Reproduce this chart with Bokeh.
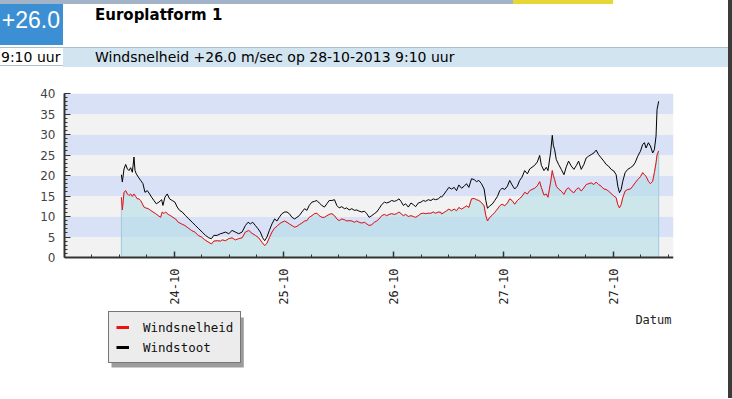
import math
from bokeh.plotting import figure
from bokeh.models import (Range1d, FixedTicker, BoxAnnotation, Legend, LegendItem,
                          Label, Div)
from bokeh.layouts import column, row
from bokeh.embed import file_html
from bokeh.resources import INLINE

# ---------------- data ----------------
station = "Europlatform 1"
laatste_waarde = "+26.0"
meettijd = "9:10 uur"
info_tekst = "Windsnelheid +26.0 m/sec op 28-10-2013 9:10 uur"
reeks_namen = ["Windsnelheid", "Windstoot"]
x_as_titel = "Datum"

# hours since 24-10-2013 00:00 (local); ticks at local midnight (DST ends 27-10)
dag_posities = [0, 24, 48, 72, 96]
dag_labels = ["24-10", "25-10", "26-10", "27-10", "27-10"]
x_bereik = [-24, 109.2]
y_ticks = [0, 5, 10, 15, 20, 25, 30, 35, 40]

tijd_snelheid = [
    -11.56, -11.35, -10.98, -10.62, -10.25, -9.89, -9.53, -9.16, -8.80, -8.44, -8.07, -7.71,
    -7.35, -6.98, -6.62, -6.25, -5.67, -5.16, -4.65, -4.07, -3.49, -2.98, -2.62, -2.25, -1.89,
    -1.31, -0.80, -0.29, 0.29, 0.87, 1.60, 2.33, 3.05, 3.78, 4.51, 5.24, 5.96, 6.69, 7.56,
    8.15, 8.65, 9.38, 10.11,
    10.47, 11.20, 11.93, 12.65, 13.38, 14.11, 14.84, 15.56, 16.29, 17.02, 17.75, 18.47, 19.20,
    19.78, 20.29, 20.80, 21.38, 21.96, 22.47, 22.98, 23.56, 24.15, 24.65, 25.16, 25.75, 26.33,
    26.84, 27.35, 27.93, 28.51, 29.02, 29.53, 30.11, 30.69, 31.20, 31.71, 32.29, 32.87, 33.38,
    33.89, 34.47,
    35.05, 35.56, 36.07, 36.65, 37.24, 37.75, 38.25, 38.84, 39.42, 39.93, 40.44, 41.02, 41.60,
    42.11, 42.62, 43.20, 43.78, 44.29, 44.80, 45.38, 45.96, 46.47, 46.98, 47.56, 48.15, 48.65,
    49.16, 49.60, 50.11, 50.62, 51.20, 51.78, 52.29, 52.80, 53.38, 53.96, 54.47, 54.98, 55.56,
    56.15, 56.65, 57.16, 57.75, 58.33,
    58.47, 59.05, 59.56, 60.07, 60.65, 61.24, 61.75, 62.25, 62.84, 63.42, 63.93, 64.44, 65.02,
    65.60, 66.11, 66.62, 67.20, 67.78, 68.15, 68.51, 69.02, 69.53, 70.11, 70.69, 71.20, 71.71,
    72.29, 72.87, 73.38, 73.89, 74.47, 75.05, 75.56, 76.07, 76.65, 77.24, 77.75, 78.25, 78.84,
    79.42, 79.93, 80.29, 80.87, 81.38, 81.75, 82.33, 82.69, 82.91,
    83.20, 83.56, 84.07, 84.65, 85.24, 85.75, 86.25, 86.84, 87.42, 87.93, 88.44, 89.02, 89.60,
    90.11, 90.62, 91.20, 91.78, 92.29, 92.80, 93.38, 93.96, 94.47, 94.98, 95.56, 96.15, 96.65,
    97.02, 97.38, 97.75, 98.11, 98.62, 99.20, 99.78, 100.29, 100.80, 101.38, 101.96, 102.47,
    102.84, 103.20, 103.71, 104.15, 104.65, 105.02, 105.38, 105.60, 105.96,
]
snelheid = [
    14.7, 11.6, 15.9, 16.3, 15.5, 15.1, 15.5, 14.9, 15.5, 14.9, 14.3, 14.3,
    13.9, 13.1, 12.3, 12.1, 11.9, 11.5, 11.1, 10.7, 10.2, 9.8, 11.1, 10.7, 11.1,
    10.5, 10.2, 9.8, 9.4, 8.6, 8.2, 7.8, 7.2, 6.6, 6.2, 5.4, 5.0, 4.3, 3.7,
    3.3, 4.0, 4.1, 4.0,
    4.3, 4.1, 4.6, 4.8, 4.3, 4.6, 4.8, 6.2, 6.6, 5.9, 5.4, 4.8, 3.7,
    2.9, 3.5, 4.8, 6.2, 7.2, 7.6, 8.2, 8.6, 8.9, 8.6, 8.2, 7.8, 7.4,
    7.6, 8.0, 8.4, 8.9, 9.0, 9.8, 10.2, 10.7, 10.8, 10.2, 9.8, 9.8, 10.2,
    10.5, 10.7,
    10.2, 9.4, 9.0, 9.4, 9.2, 8.9, 9.0, 8.9, 8.6, 8.9, 8.6, 8.4, 8.6,
    8.2, 7.8, 8.0, 8.6, 8.9, 9.4, 10.2, 10.5, 10.2, 10.5, 10.7, 10.5, 10.7,
    11.1, 10.7, 10.2, 10.5, 10.0, 10.2, 10.0, 9.8, 10.2, 10.7, 10.8, 10.7, 10.8,
    10.8, 11.1, 10.8, 11.1, 11.0,
    10.6, 11.0, 11.4, 11.8, 11.4, 11.8, 11.4, 12.2, 11.8, 12.2, 12.6, 12.2, 14.3,
    14.4, 14.1, 13.9, 13.4, 12.6, 10.2, 8.9, 9.8, 10.3, 11.0, 11.8, 12.6, 13.0,
    12.6, 13.3, 14.3, 13.9, 13.0, 13.9, 14.4, 14.9, 15.9, 15.5, 16.3, 16.6, 16.9,
    17.5, 18.5, 17.1, 15.2, 15.5, 14.7, 18.4, 21.2, 20.0,
    19.0, 17.4, 16.7, 16.2, 15.4, 16.6, 17.0, 16.2, 15.8, 16.6, 17.0, 16.2, 17.0,
    17.8, 18.0, 18.2, 17.8, 18.4, 17.8, 17.4, 16.7, 16.6, 16.2, 15.6, 15.0, 14.6,
    12.9, 12.1, 12.9, 14.6, 16.2, 16.6, 16.7, 17.4, 18.2, 19.0, 19.7, 20.7,
    20.2, 19.8, 18.6, 18.0, 18.6, 20.7, 23.1, 25.0, 26.0,
]

tijd_stoot = [
    -11.56, -11.35, -10.98, -10.62, -10.25, -9.89, -9.53, -9.16, -8.80, -8.58, -8.29, -7.85,
    -7.35, -6.84, -6.40, -5.89, -5.38, -4.95, -4.44, -3.93, -3.35, -2.76, -2.47, -2.04, -1.53,
    -1.02, -0.44, 0.15, 0.65, 1.16, 1.75, 2.47, 3.20, 3.93, 4.65, 5.38, 6.11, 6.84, 7.56,
    8.15, 8.65, 9.38, 10.11,
    10.47, 11.20, 11.93, 12.65, 13.38, 14.11, 14.84, 15.56, 16.15, 16.65, 17.16, 17.75, 18.33,
    18.84, 19.35, 19.78, 20.29, 20.80, 21.38, 21.96, 22.47, 22.98, 23.56, 24.15, 24.65, 25.16,
    25.75, 26.33, 26.84, 27.35, 27.93, 28.51, 29.02, 29.53, 30.11, 30.69, 31.20, 31.71, 32.29,
    32.87, 33.38, 33.89, 34.47,
    35.05, 35.56, 36.07, 36.65, 37.24, 37.75, 38.25, 38.84, 39.42, 39.93, 40.44, 41.02, 41.60,
    42.11, 42.62, 43.20, 43.78, 44.29, 44.80, 45.38, 45.96, 46.47, 46.98, 47.56, 48.15, 48.65,
    49.16, 49.60, 50.11, 50.62, 51.20, 51.78, 52.29, 52.80, 53.38, 53.96, 54.47, 54.98, 55.56,
    56.15, 56.65, 57.16, 57.75, 58.33,
    58.47, 59.05, 59.56, 60.07, 60.65, 61.24, 61.75, 62.25, 62.84, 63.42, 63.93, 64.44, 65.02,
    65.60, 66.11, 66.62, 67.20, 67.78, 68.15, 68.51, 69.02, 69.53, 70.11, 70.69, 71.20, 71.71,
    72.29, 72.87, 73.38, 73.89, 74.47, 75.05, 75.56, 76.07, 76.65, 77.24, 77.75, 78.25, 78.84,
    79.42, 79.93, 80.29, 80.87, 81.38, 81.75, 82.33, 82.69, 82.91,
    83.20, 83.56, 84.07, 84.65, 85.24, 85.75, 86.25, 86.84, 87.42, 87.93, 88.44, 89.02, 89.60,
    90.11, 90.62, 91.20, 91.78, 92.29, 92.80, 93.38, 93.96, 94.47, 94.98, 95.56, 96.15, 96.65,
    97.02, 97.38, 97.75, 98.11, 98.62, 99.20, 99.78, 100.29, 100.80, 101.38, 101.96, 102.47,
    102.84, 103.20, 103.71, 104.15, 104.65, 105.02, 105.38, 105.60, 105.96,
]
stoot = [
    20.2, 18.4, 21.6, 22.7, 21.6, 21.2, 21.9, 20.8, 24.5, 21.2, 20.4, 19.6,
    18.8, 18.0, 15.9, 16.3, 15.5, 14.7, 13.9, 13.1, 13.5, 14.1, 12.7, 14.7, 15.5,
    14.3, 13.9, 13.5, 12.3, 11.5, 11.1, 10.2, 9.4, 8.6, 7.8, 7.0, 6.2, 5.4, 4.8,
    4.6, 5.4, 5.4, 5.8,
    5.9, 6.2, 5.8, 6.6, 6.2, 5.8, 6.2, 7.8, 8.6, 8.2, 8.6, 7.8, 7.0,
    6.2, 4.8, 4.1, 5.0, 6.6, 8.2, 9.4, 8.9, 9.8, 10.7, 11.1, 11.1, 10.7,
    9.8, 9.4, 9.8, 10.2, 11.1, 11.9, 11.5, 12.7, 13.5, 13.7, 13.9, 13.3, 12.7,
    12.3, 13.1, 13.9, 13.9,
    14.1, 12.7, 12.1, 12.4, 11.9, 12.1, 11.6, 11.9, 11.5, 11.6, 11.3, 11.1, 11.3,
    10.7, 9.8, 10.2, 10.7, 11.1, 11.9, 12.9, 13.5, 13.3, 13.5, 13.9, 13.7, 13.9,
    14.3, 13.7, 12.7, 13.1, 12.3, 13.3, 12.9, 12.4, 13.3, 13.5, 13.9, 13.7, 14.1,
    13.9, 14.3, 14.1, 14.3, 14.9,
    14.7, 15.5, 16.3, 17.1, 16.7, 17.1, 16.3, 17.7, 16.9, 17.4, 18.0, 17.1, 19.2,
    19.0, 18.5, 18.8, 18.0, 16.7, 13.9, 12.0, 12.6, 13.0, 13.9, 14.9, 16.3, 16.9,
    16.6, 17.4, 18.8, 17.7, 16.7, 17.4, 18.8, 19.6, 21.2, 20.4, 21.6, 22.0, 22.5,
    23.3, 24.9, 22.5, 21.2, 22.0, 21.2, 25.7, 29.8, 27.4,
    26.3, 23.9, 22.7, 21.5, 20.2, 22.1, 23.5, 22.3, 21.5, 22.4, 23.5, 21.5, 22.7,
    24.3, 24.7, 25.1, 25.5, 26.2, 25.1, 24.3, 23.5, 22.7, 22.3, 21.5, 21.1, 20.2,
    17.4, 15.8, 16.6, 18.6, 20.7, 21.5, 21.9, 22.3, 23.1, 24.7, 25.9, 27.6,
    28.0, 26.7, 28.0, 27.2, 25.5, 26.3, 29.6, 36.1, 38.1,
]

# ---------------- layout / styles ----------------
ROOD = "#ee1111"
ZWART = "#000000"
BAND_BLAUW = "#d9e1f7"
BAND_GRIJS = "#f2f2f2"
VLAK = "#b4dde7"
MONO = "DejaVu Sans Mono"

PAGE_W = 728          # content width (dark window edge strip on the right)
HEADER_H = 68
FIG_H = 330
FRAME_LEFT, FRAME_RIGHT = 64, 673      # absolute page pixels
FRAME_TOP = 93                          # where y = 40
ZERO_Y = 257                            # where y = 0
BORDER_BOTTOM = 8
FRAME_BOTTOM = HEADER_H + FIG_H - BORDER_BOTTOM
px_per_unit = (ZERO_Y - FRAME_TOP) / (y_ticks[-1] - y_ticks[0])
y_start = -(FRAME_BOTTOM - ZERO_Y) / px_per_unit

# ---------------- header ----------------
header_html = f"""
<div style="position:relative;width:{PAGE_W}px;height:{HEADER_H}px;overflow:hidden;font-family:'DejaVu Sans',sans-serif;color:#000;background:#fff;">
  <div style="position:absolute;left:0;top:0;width:513px;height:4px;background:#a3b4c8;"></div>
  <div style="position:absolute;left:513px;top:0;width:100px;height:4px;background:#e6d636;"></div>
  <div style="position:absolute;left:0;top:4px;width:63px;height:41px;background:#3d8fd3;overflow:hidden;">
    <div style="position:absolute;right:3px;top:5px;color:#fff;font-family:'Liberation Sans',sans-serif;font-size:23px;line-height:23px;white-space:nowrap;">{laatste_waarde}</div>
  </div>
  <div style="position:absolute;left:95px;top:8px;font-weight:bold;font-size:15px;line-height:15px;white-space:nowrap;">{station}</div>
  <div style="position:absolute;left:0;top:47px;width:{PAGE_W}px;height:19px;border-top:1px solid #aebfcc;border-bottom:1px solid #aebfcc;background:#ffffff;"></div>
  <div style="position:absolute;left:63px;top:48px;width:{PAGE_W - 63}px;height:19px;background:#d2e4f0;"></div>
  <div style="position:absolute;left:1px;top:50px;font-size:14px;line-height:14px;white-space:nowrap;">{meettijd}</div>
  <div style="position:absolute;left:95px;top:50px;font-size:14px;line-height:14px;white-space:nowrap;">{info_tekst}</div>
</div>
"""
header = Div(text=header_html, width=PAGE_W, height=HEADER_H, margin=(0, 0, 0, 0))

# ---------------- figure ----------------
p = figure(width=PAGE_W, height=FIG_H, output_backend="svg", toolbar_location=None,
           x_range=Range1d(*x_bereik), y_range=Range1d(y_start, y_ticks[-1]),
           min_border_left=FRAME_LEFT, min_border_right=PAGE_W - FRAME_RIGHT,
           min_border_top=FRAME_TOP - HEADER_H, min_border_bottom=BORDER_BOTTOM,
           margin=(0, 0, 0, 0))
p.outline_line_color = None
p.grid.visible = False
p.background_fill_color = "white"
p.border_fill_color = "white"
# range far above the data: used only by the legend swatch renderers (never visible)
p.extra_y_ranges = {"legenda": Range1d(1000, 1001)}

for i in range(len(y_ticks) - 1):
    p.add_layout(BoxAnnotation(bottom=y_ticks[i], top=y_ticks[i + 1],
                               fill_color=BAND_GRIJS if i % 2 == 0 else BAND_BLAUW,
                               fill_alpha=1, line_color=None, level="underlay"))

vlak_x = [tijd_snelheid[0]] + tijd_snelheid + [tijd_snelheid[-1]]
vlak_y = [0] + snelheid + [0]
p.patch(vlak_x, vlak_y, fill_color=VLAK, fill_alpha=0.6,
        line_color="#9ccbd8", line_width=1)

r_snel = p.line(tijd_snelheid, snelheid, line_color=ROOD, line_width=1)
r_stoot = p.line(tijd_stoot, stoot, line_color=ZWART, line_width=1)

# legend swatches: thicker lines, plotted against the off-screen range
leg_snel = p.line(tijd_snelheid, snelheid, line_color=ROOD, line_width=3, y_range_name="legenda")
leg_stoot = p.line(tijd_stoot, stoot, line_color=ZWART, line_width=3, y_range_name="legenda")

# axes
xa = p.xaxis[0]
xa.fixed_location = 0
xa.ticker = FixedTicker(ticks=dag_posities,
                        minor_ticks=[t for t in range(-18, 109, 6) if t % 24 != 0])
xa.major_label_overrides = dict(zip(dag_posities, dag_labels))
xa.major_label_orientation = math.pi / 2
xa.major_label_text_font = MONO
xa.major_label_text_font_size = "12px"
xa.major_label_text_color = "#222222"
xa.major_label_standoff = 11
xa.major_tick_in = 6
xa.major_tick_out = 0
xa.minor_tick_in = 3
xa.minor_tick_out = 0
xa.axis_line_width = 2
xa.axis_line_color = "#333333"
xa.major_tick_line_color = "#333333"
xa.minor_tick_line_color = "#333333"
xa.major_tick_line_width = 1.5
xa.minor_tick_line_width = 1

ya = p.yaxis[0]
ya.bounds = (y_ticks[0], y_ticks[-1])
ya.ticker = FixedTicker(ticks=y_ticks, minor_ticks=list(range(y_ticks[0], y_ticks[-1] + 1)))
ya.major_label_text_font = "DejaVu Sans"
ya.major_label_text_font_size = "12px"
ya.major_label_text_color = "#444444"
ya.major_label_standoff = 9
ya.major_tick_in = 6
ya.major_tick_out = 0
ya.minor_tick_in = 3
ya.minor_tick_out = 0
ya.axis_line_width = 2
ya.axis_line_color = "#333333"
ya.major_tick_line_color = "#333333"
ya.minor_tick_line_color = "#333333"

p.add_layout(Label(x=671 - FRAME_LEFT, y=FRAME_BOTTOM - 312, x_units="screen", y_units="screen",
                   text=x_as_titel, text_align="right", text_baseline="top", text_font=MONO,
                   text_font_size="12px", text_color="#222222"))

# legend with a drop shadow
LEG_PAD, LEG_GLYPH, LEG_STANDOFF, LEG_ITEM_H, LEG_SPACING = 7, 13, 14, 16, 4
LEG_FONT_PX = 12.5
leg_w = 2 * LEG_PAD + LEG_GLYPH + LEG_STANDOFF + 0.602 * LEG_FONT_PX * max(len(n) for n in reeks_namen)
leg_h = 2 * LEG_PAD + len(reeks_namen) * LEG_ITEM_H + (len(reeks_namen) - 1) * LEG_SPACING
leg_x = 108 - FRAME_LEFT
leg_y = FRAME_BOTTOM - 363

p.add_layout(BoxAnnotation(left=leg_x + 3, right=leg_x + 3 + leg_w + 1,
                           bottom=leg_y - 4, top=leg_y - 4 + leg_h,
                           left_units="screen", right_units="screen",
                           bottom_units="screen", top_units="screen",
                           fill_color="#9c9c9c", fill_alpha=1, line_color=None,
                           level="annotation"))

legend = Legend(items=[LegendItem(label=reeks_namen[0], renderers=[leg_snel]),
                       LegendItem(label=reeks_namen[1], renderers=[leg_stoot])],
                location=(leg_x, leg_y), background_fill_color="#ececec",
                background_fill_alpha=1, border_line_color="#000000", border_line_width=1.5,
                label_text_font=MONO, label_text_font_size=f"{LEG_FONT_PX}px",
                label_text_color="#111111",
                glyph_width=LEG_GLYPH, glyph_height=LEG_ITEM_H, label_height=LEG_ITEM_H,
                label_standoff=LEG_STANDOFF, padding=LEG_PAD, spacing=LEG_SPACING, margin=0)
p.add_layout(legend)

rand = Div(text="", width=4, height=HEADER_H + FIG_H, margin=(0, 0, 0, 0),
           styles={"background-color": "#3b3b3b"})

layout = row(column(header, p, spacing=0, margin=(0, 0, 0, 0)), rand,
             spacing=0, margin=(0, 0, 0, 0))
open("out.html", "w").write(file_html(layout, INLINE))
